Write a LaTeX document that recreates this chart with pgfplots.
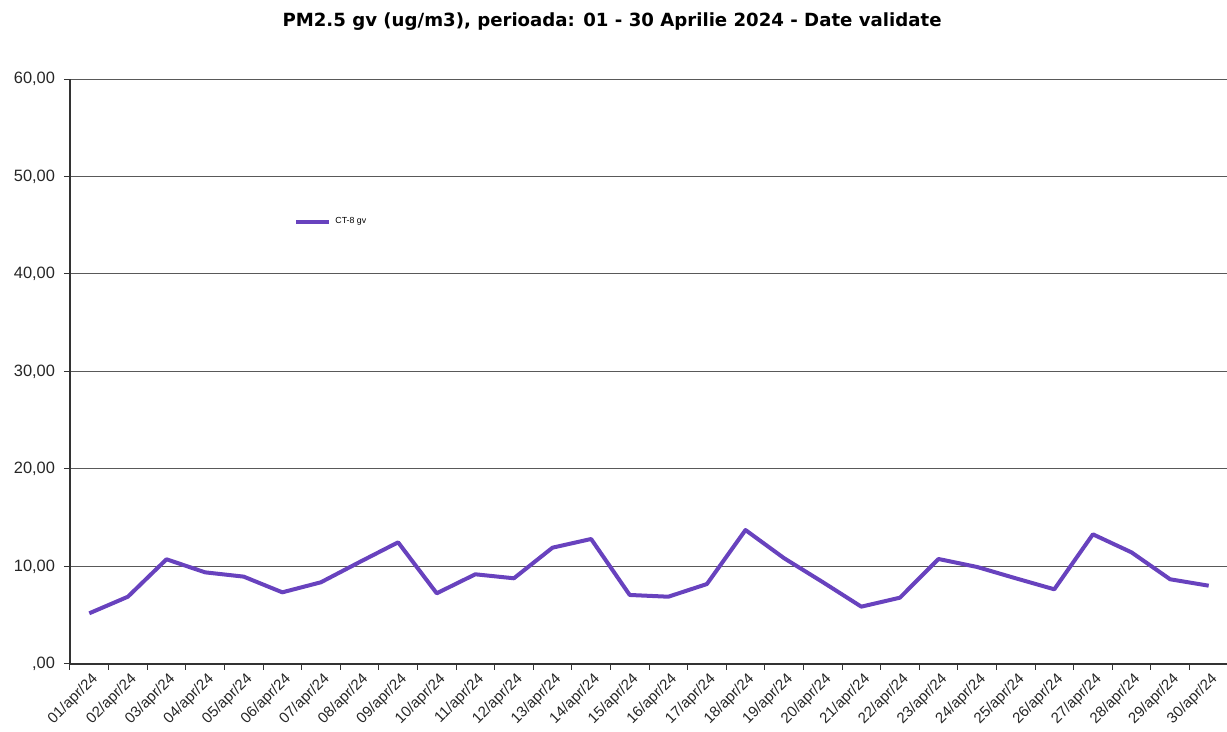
\documentclass[border=0pt]{standalone}
\usepackage{pgfplots}
\pgfplotsset{compat=1.18}
\usepackage{fontspec}
\setmainfont{Liberation Sans}
\newfontfamily\titlefont{DejaVu Sans}
\definecolor{linec}{RGB}{104,66,190}
\begin{document}
\begin{tikzpicture}
\useasboundingbox (0,0) rectangle (613.5pt,366pt);
\node[font=\titlefont\bfseries\fontsize{9.07}{10}\selectfont] at (306pt,355pt) {PM2.5 gv (ug/m3), perioada: 01 - 30 Aprilie 2024 - Date validate};
\begin{axis}[
  at={(35pt,34pt)}, anchor=south west,
  scale only axis, width=579pt, height=292.5pt,
  xmin=0.5, xmax=30.5, ymin=0, ymax=60,
  axis lines*=left,
  axis line style={black!80, line width=0.6pt},
  ymajorgrids, grid style={black!65, line width=0.5pt},
  tick align=outside, major tick length=3pt,
  tick style={black!80, line width=0.5pt},
  ytick={0,10,20,30,40,50,60},
  yticklabels={{,00},{10,00},{20,00},{30,00},{40,00},{50,00},{60,00}},
  yticklabel style={font=\fontsize{8.2}{9}\selectfont, color=black!85, xshift=-1pt},
  xtick={0.5,1.5,...,30.5},
  x tick label as interval,
  xticklabels={01/apr/24,02/apr/24,03/apr/24,04/apr/24,05/apr/24,06/apr/24,07/apr/24,08/apr/24,09/apr/24,10/apr/24,11/apr/24,12/apr/24,13/apr/24,14/apr/24,15/apr/24,16/apr/24,17/apr/24,18/apr/24,19/apr/24,20/apr/24,21/apr/24,22/apr/24,23/apr/24,24/apr/24,25/apr/24,26/apr/24,27/apr/24,28/apr/24,29/apr/24,30/apr/24},
  xticklabel style={font=\fontsize{7.5}{8}\selectfont, color=black!85, rotate=45, anchor=north east, inner sep=1pt, xshift=1pt},
  legend style={draw=none, fill=none, font=\fontsize{4.4}{5}\selectfont, at={(0.1935,0.7556)}, anchor=west, inner sep=0pt},
  legend image code/.code={\draw[#1] (0pt,0pt) -- (16.5pt,0pt);},
]
\addplot[color=linec, line width=2pt, line join=round] coordinates {
(1,5.2) (2,6.9) (3,10.74) (4,9.4) (5,8.96) (6,7.35) (7,8.38) (8,10.45) (9,12.48) (10,7.25)
(11,9.2) (12,8.79) (13,11.93) (14,12.82) (15,7.08) (16,6.9) (17,8.2) (18,13.74) (19,10.85) (20,8.4)
(21,5.88) (22,6.8) (23,10.77) (24,9.95) (25,8.79) (26,7.66) (27,13.3) (28,11.45) (29,8.69) (30,8.03)
};
\addlegendentry{CT-8 gv}
\end{axis}
\end{tikzpicture}
\end{document}
